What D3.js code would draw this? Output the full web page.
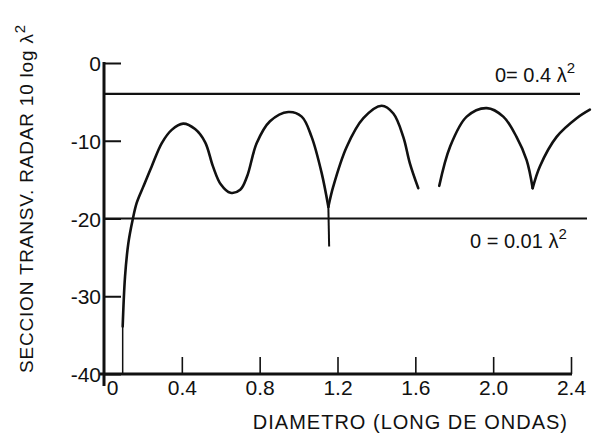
<!DOCTYPE html>
<html><head><meta charset="utf-8">
<script src="https://cdn.jsdelivr.net/npm/d3@7"></script>
<style>
html,body{margin:0;padding:0;background:#fff;}
svg{display:block;font-family:"Liberation Sans",Arial,sans-serif;}
</style></head>
<body>
<svg id="c" width="592" height="435"></svg>
<script>
// ---- data ----
const xTickValues = [0, 0.4, 0.8, 1.2, 1.6, 2.0, 2.4];
const xTickLabels = ["0", "0.4", "0.8", "1.2", "1.6", "2.0", "2.4"];
const yTickValues = [0, -10, -20, -30, -40];
const yTickLabels = ["0", "-10", "-20", "-30", "-40"];

// curve segments: diameter (wavelengths) vs 10 log(sigma/lambda^2) dB
const seg1X = [0.096, 0.108, 0.125, 0.147, 0.168, 0.202, 0.245, 0.297, 0.348, 0.407, 0.468, 0.520, 0.560, 0.600, 0.650, 0.700, 0.735, 0.785, 0.853, 0.947, 1.016, 1.067, 1.119, 1.153];
const seg1Y = [-33.9, -27.5, -23.2, -20.2, -18.0, -15.9, -13.3, -10.3, -8.6, -7.8, -8.5, -10.2, -13.3, -15.6, -16.7, -16.3, -14.6, -10.3, -7.5, -6.3, -6.9, -9.5, -14.2, -18.5];
const spikeX = [1.153, 1.157];
const spikeY = [-18.5, -23.6];
const stemX = [0.096, 0.096];
const stemY = [-33.9, -40];
const seg2X = [1.153, 1.178, 1.247, 1.333, 1.427, 1.487, 1.538, 1.572, 1.615];
const seg2Y = [-18.5, -15.9, -10.8, -7.1, -5.5, -6.5, -9.5, -12.9, -16.1];
const seg3X = [1.723, 1.778, 1.864, 1.967, 2.052, 2.120, 2.172, 2.203];
const seg3Y = [-15.8, -10.8, -6.9, -5.8, -6.9, -9.5, -12.5, -16.1];
const seg4X = [2.203, 2.240, 2.326, 2.429, 2.497];
const seg4Y = [-16.1, -13.3, -9.5, -7.1, -6.0];

// reference levels (sigma = k * lambda^2)
const refK = [0.4, 0.01];
const refLabels = ["0= 0.4 λ", "0 = 0.01 λ"];

const yTitle = "SECCION  TRANSV. RADAR 10 log λ";
const xTitle = "DIAMETRO (LONG DE ONDAS)";

// ---- drawing ----
const svg = d3.select("#c");
const x = d3.scaleLinear().domain([0, 2.4]).range([104, 571]);
const y = d3.scaleLinear().domain([0, -40]).range([63, 374]);
const ink = "#111";

const zip = (a, b) => a.map((v, i) => [v, b[i]]);
const line = d3.line().x(d => x(d[0])).y(d => y(d[1]));
const smooth = d3.line().x(d => x(d[0])).y(d => y(d[1])).curve(d3.curveCatmullRom.alpha(0.5));

// reference lines
refK.forEach((k, i) => {
  const db = 10 * Math.log10(k);
  svg.append("line").attr("x1", x(0)).attr("x2", i === 0 ? 580 : 587)
    .attr("y1", y(db)).attr("y2", y(db))
    .attr("stroke", ink).attr("stroke-width", 2.2);
});

// y axis
const yAxis = d3.axisLeft(y).tickValues(yTickValues)
  .tickFormat((d, i) => yTickLabels[i]).tickSize(-17).tickPadding(3);
const gy = svg.append("g").attr("transform", `translate(${x(0)},0)`).call(yAxis);
gy.select(".domain").remove();
gy.selectAll(".tick line").attr("stroke", ink).attr("stroke-width", 2);
gy.selectAll(".tick text").attr("fill", ink).style("font-size", "21px")
  .style("font-family", "Liberation Sans, Arial, sans-serif").attr("dy", "0.36em");
svg.append("line").attr("x1", x(0)).attr("x2", x(0)).attr("y1", y(0) - 1).attr("y2", 386)
  .attr("stroke", ink).attr("stroke-width", 3);

// x axis
const xAxis = d3.axisBottom(x).tickValues(xTickValues)
  .tickFormat((d, i) => xTickLabels[i]).tickSize(-17).tickPadding(6);
const gx = svg.append("g").attr("transform", `translate(0,${y(-40)})`).call(xAxis);
gx.select(".domain").remove();
gx.selectAll(".tick line").attr("stroke", ink).attr("stroke-width", 1.6)
  .attr("opacity", (d, i) => i === 0 ? 0 : 1);
gx.selectAll(".tick text").attr("fill", ink).style("font-size", "21px")
  .style("font-family", "Liberation Sans, Arial, sans-serif")
  .attr("dx", (d, i) => i === 0 ? 8 : 0);
svg.append("line").attr("x1", x(0) - 4).attr("x2", x(2.4) + 1).attr("y1", y(-40)).attr("y2", y(-40))
  .attr("stroke", ink).attr("stroke-width", 3);

// curve
[[seg1X, seg1Y], [seg2X, seg2Y], [seg3X, seg3Y], [seg4X, seg4Y]].forEach(([sx, sy]) => {
  svg.append("path").attr("d", smooth(zip(sx, sy))).attr("fill", "none")
    .attr("stroke", ink).attr("stroke-width", 2.6).attr("stroke-linejoin", "round").attr("stroke-linecap", "round");
});
svg.append("path").attr("d", line(zip(spikeX, spikeY))).attr("fill", "none")
  .attr("stroke", ink).attr("stroke-width", 2);
svg.append("path").attr("d", line(zip(stemX, stemY))).attr("fill", "none")
  .attr("stroke", ink).attr("stroke-width", 1.5);

// reference labels
const lab = [[495, 82], [470, 248]];
refLabels.forEach((t, i) => {
  const tx = svg.append("text").attr("x", lab[i][0]).attr("y", lab[i][1])
    .attr("fill", ink).style("font-size", "20px");
  tx.append("tspan").text(t);
  tx.append("tspan").attr("dy", -9).style("font-size", "15px").text("2");
});

// axis titles
svg.append("text").attr("x", 568).attr("y", 429).attr("text-anchor", "end")
  .attr("fill", ink).style("font-size", "20px").style("letter-spacing", "1px").text(xTitle);

const yt = svg.append("text").attr("transform", "translate(33,373) rotate(-90)")
  .attr("text-anchor", "start").attr("fill", ink).style("font-size", "19px").style("letter-spacing", "0.8px");
yt.append("tspan").text(yTitle);
yt.append("tspan").attr("dy", -8).style("font-size", "15px").text("2");
</script>
</body></html>
